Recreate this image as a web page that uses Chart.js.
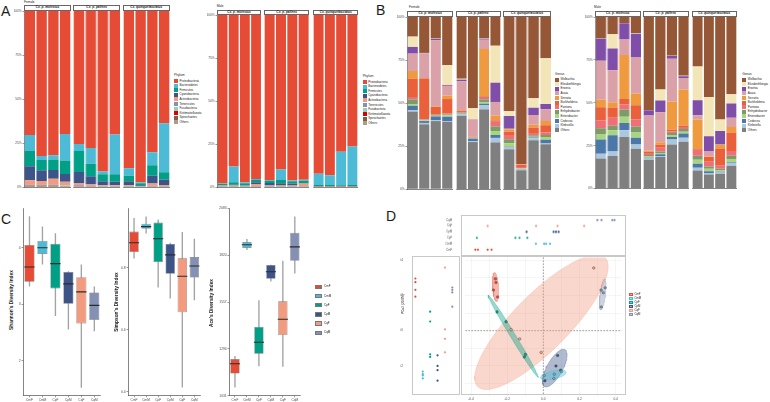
<!DOCTYPE html>
<html>
<head>
<meta charset="utf-8">
<script src="https://cdn.jsdelivr.net/npm/chart.js@4.4.1/dist/chart.umd.min.js"></script>
<style>
  html, body { margin: 0; padding: 0; background: #fff; }
  body { position: relative; width: 770px; height: 402px; overflow: hidden; font-family: "Liberation Sans", Arial, sans-serif; }
  .t { position: absolute; line-height: 1; white-space: nowrap; color: #1a1a1a; }
</style>
</head>
<body>
<script>
// ---------- data ----------
const facetNames = ['Cx. p. molestus', 'Cx. p. pallens', 'Cx. quinquefasciatus'];
const femaleSamples = ['CmF1','CmF2','CmF3','CmF4','CpF1','CpF2','CpF3','CpF4','CqF1','CqF2','CqF3','CqF4'];
const maleSamples = ['CmM1','CmM2','CmM3','CmM4','CpM1','CpM2','CpM3','CpM4','CqM1','CqM2','CqM3','CqM4'];
const pctTicks = ['0%', '25%', '50%', '75%', '100%'];

const phyla = ['Proteobacteria','Bacteroidetes','Firmicutes','Cyanobacteria','Actinobacteria','Tenericutes','Fusobacteria','Kiritimatiellaeota','Spirochaetes','Others'];
const phylumColors = ['#E64B35','#4DBBD5','#00A087','#3C5488','#F39B7F','#8491B4','#91D1C2','#DC0000','#7E6148','#B09C85'];
const phylumFemale = [
  [70.3, 82.2, 81.8, 69.7, 75.4, 77.7, 91.1, 70.1, 89.2, 97.2, 80.1, 63.6],
  [9.1, 2.3, 2.5, 15.1, 4.0, 9.0, 1.5, 22.5, 4.2, 0.5, 7.4, 27.9],
  [8.6, 5.8, 5.9, 7.6, 11.9, 7.0, 4.0, 4.2, 3.2, 1.2, 5.9, 4.1],
  [8.0, 6.1, 4.9, 4.4, 6.2, 4.4, 2.3, 2.1, 2.3, 0.3, 4.5, 3.1],
  [2.5, 2.2, 3.5, 2.0, 1.4, 0.9, 0.3, 0.3, 0.3, 0.1, 1.2, 0.5],
  [0.3, 0.2, 0.2, 0.2, 0.3, 0.3, 0.2, 0.2, 0.2, 0.1, 0.2, 0.2],
  [0.2, 0.2, 0.2, 0.2, 0.1, 0.1, 0.1, 0.1, 0.1, 0.1, 0.1, 0.1],
  [0.1, 0.1, 0.1, 0.1, 0.1, 0.1, 0.1, 0.1, 0.1, 0.1, 0.1, 0.1],
  [0.1, 0.1, 0.1, 0.1, 0.1, 0.1, 0.1, 0.1, 0.1, 0.1, 0.1, 0.1],
  [0.8, 0.8, 0.8, 0.6, 0.5, 0.4, 0.3, 0.3, 0.3, 0.3, 0.4, 0.3]
];
const phylumMale = [
  [97.7, 88.0, 97.1, 95.2, 95.7, 89.7, 96.0, 95.6, 92.1, 93.0, 79.4, 76.3],
  [0.3, 9.0, 0.5, 0.5, 0.5, 6.1, 0.5, 0.6, 6.5, 5.7, 19.4, 22.4],
  [0.7, 1.5, 1.2, 1.4, 1.3, 1.8, 1.3, 1.3, 0.6, 0.5, 0.4, 0.5],
  [0.3, 0.5, 0.3, 1.0, 1.5, 1.4, 1.2, 0.3, 0.1, 0.1, 0.1, 0.1],
  [0.3, 0.3, 0.2, 1.0, 0.3, 0.3, 0.3, 1.5, 0.1, 0.1, 0.1, 0.1],
  [0.1, 0.1, 0.1, 0.2, 0.1, 0.1, 0.1, 0.1, 0.1, 0.1, 0.1, 0.1],
  [0.1, 0.1, 0.1, 0.1, 0.1, 0.1, 0.1, 0.1, 0.1, 0.1, 0.1, 0.1],
  [0.1, 0.1, 0.1, 0.1, 0.1, 0.1, 0.1, 0.1, 0.1, 0.1, 0.1, 0.1],
  [0.1, 0.1, 0.1, 0.1, 0.1, 0.1, 0.1, 0.1, 0.1, 0.1, 0.1, 0.1],
  [0.3, 0.3, 0.3, 0.4, 0.3, 0.3, 0.3, 0.3, 0.2, 0.2, 0.2, 0.2]
];

const genera = ['Wolbachia','Elizabethkingia','Erwinia','Asaia','Serratia','Burkholderia','Pantoea','Enhydrobacter','Enterobacter','Cedecea','Klebsiella','Others'];
const genusColors = ['#955735','#F2E6B9','#7E4EA8','#DBA1A8','#F09A40','#E9603A','#EF6F77','#7D9A68','#A8D580','#4B78A8','#ABC7E0','#7F7F7F'];
const genusFemale = [
  [11.4, 20.9, 12.6, 28.0, 35.9, 53.1, 12.4, 16.7, 54.8, 85.4, 47.3, 24.0],
  [6.0, 0.2, 0.2, 11.5, 0.5, 6.4, 0.2, 21.5, 2.8, 0.1, 5.4, 26.6],
  [3.9, 0.2, 0.8, 0.5, 1.0, 0.2, 0.6, 11.2, 7.4, 0.1, 4.3, 3.1],
  [10.1, 14.2, 38.3, 5.7, 16.7, 9.7, 5.4, 8.0, 0.3, 0.1, 5.6, 6.8],
  [4.6, 0.2, 0.4, 2.0, 0.4, 0.2, 27.5, 2.7, 1.4, 0.2, 1.7, 2.5],
  [10.5, 23.8, 4.5, 8.5, 0.7, 0.3, 0.4, 0.4, 1.9, 1.3, 3.1, 4.2],
  [1.4, 0.2, 0.2, 0.5, 0.4, 0.2, 1.4, 3.1, 2.5, 0.7, 1.4, 1.4],
  [2.7, 0.3, 0.4, 0.5, 0.2, 0.2, 1.5, 2.7, 2.3, 0.2, 0.8, 1.2],
  [1.0, 0.5, 0.4, 0.8, 0.4, 0.4, 1.0, 2.3, 2.1, 0.2, 0.5, 1.5],
  [2.7, 1.1, 2.3, 2.5, 0.4, 1.6, 0.8, 1.7, 0.3, 0.4, 0.4, 2.3],
  [0.7, 0.8, 0.4, 0.4, 0.8, 0.4, 2.5, 2.6, 1.1, 0.4, 1.2, 0.4],
  [45.0, 37.6, 39.5, 39.1, 42.6, 27.3, 46.3, 27.1, 23.1, 10.9, 28.3, 26.0]
];
const genusMale = [
  [12.5, 10.0, 3.5, 9.5, 54.2, 42.3, 22.6, 34.3, 28.8, 46.6, 59.8, 45.0],
  [0.2, 8.3, 0.2, 0.2, 0.2, 6.4, 0.2, 0.2, 19.7, 23.0, 6.7, 5.5],
  [12.8, 12.7, 9.4, 13.9, 3.1, 6.9, 1.6, 1.0, 8.8, 8.6, 7.8, 8.2],
  [22.8, 18.7, 9.1, 21.0, 20.3, 17.5, 24.9, 6.8, 2.5, 3.2, 0.2, 5.4],
  [4.3, 3.1, 25.6, 6.9, 0.8, 1.4, 16.4, 21.1, 17.2, 0.3, 2.5, 3.2],
  [7.6, 5.9, 3.1, 8.1, 0.7, 1.7, 1.0, 0.7, 0.4, 2.7, 9.7, 10.9],
  [4.7, 4.7, 3.1, 4.3, 1.2, 2.2, 0.9, 1.2, 3.5, 2.8, 1.8, 2.7],
  [3.3, 2.7, 4.1, 3.4, 0.8, 0.9, 1.2, 1.6, 2.3, 1.3, 1.0, 1.9],
  [3.3, 2.9, 3.7, 3.1, 0.8, 0.8, 1.2, 1.1, 2.4, 1.4, 0.7, 1.8],
  [8.2, 9.4, 4.3, 3.9, 0.4, 1.0, 1.5, 2.4, 2.3, 1.1, 0.4, 0.4],
  [2.8, 2.7, 3.9, 2.5, 0.7, 0.6, 2.8, 2.3, 1.6, 0.8, 0.8, 1.7],
  [17.5, 18.9, 30.0, 23.2, 16.8, 18.3, 25.7, 27.3, 10.5, 8.2, 8.6, 13.3]
];

const groups = ['CmF','CmM','CpF','CpM','CqF','CqM'];
const groupColors = ['#E64B35','#4DBBD5','#00A087','#3C5488','#F39B7F','#8491B4'];
// [min, q1, median, q3, max]
const shannon = [[3.32,3.40,3.66,4.05,4.55],[3.71,3.89,4.00,4.12,4.37],[2.80,3.28,3.72,4.07,4.25],[2.56,3.01,3.36,3.57,3.58],[1.53,2.66,3.22,3.48,3.70],[2.53,2.72,2.98,3.21,3.31]];
const simpson = [[0.831,0.851,0.881,0.917,0.960],[0.912,0.926,0.933,0.942,0.965],[0.738,0.819,0.894,0.946,0.955],[0.702,0.781,0.842,0.877,0.880],[0.415,0.657,0.773,0.831,0.915],[0.697,0.769,0.806,0.835,0.893]];
const ace = [[1079,1156,1211,1237,1252],[1851,1860,1878,1893,1908],[1198,1267,1331,1418,1565],[1674,1687,1727,1764,1764],[1196,1372,1460,1561,1786],[1718,1788,1866,1945,2035]];

// PCoA scores per group
const pco1 = [[-0.265,-0.262,-0.276,-0.253],[0.005,0.061,0.100,0.058],[-0.256,-0.206,-0.099,-0.105],[0.079,0.070,0.096,0.009],[-0.131,-0.012,0.279,-0.178],[0.320,0.332,0.342,0.321]];
const pco2 = [[0.295,0.274,0.231,0.192],[-0.255,-0.248,-0.233,-0.272],[0.107,0.051,-0.135,-0.150],[-0.141,-0.201,-0.225,-0.285],[-0.047,-0.124,0.357,0.006],[0.231,0.216,0.244,0.135]];
// top strip plot values
const topStrip = [[-0.354,-0.340,-0.288,-0.267],[-0.029,0.015,0.026,0.047],[-0.346,-0.139,-0.117,-0.075],[-0.079,0.066,0.079,0.093],[-0.288,-0.028,0.087,0.230],[0.301,0.323,0.381,0.393]];

// ---------- helpers ----------
Chart.defaults.font.family = '"Liberation Sans", Arial, sans-serif';
Chart.defaults.color = '#4d4d4d';
Chart.defaults.animation = false;
Chart.defaults.responsive = true;
Chart.defaults.maintainAspectRatio = false;
Chart.defaults.plugins.legend.display = false;
Chart.defaults.plugins.tooltip.enabled = false;

function mk(l, t, w, h) {
  const d = document.createElement('div');
  d.style.cssText = `position:absolute;left:${l}px;top:${t}px;width:${w}px;height:${h}px`;
  const c = document.createElement('canvas');
  d.appendChild(c);
  document.body.appendChild(d);
  return c;
}
function txt(s, x, y, size, css) {
  const d = document.createElement('div');
  d.className = 't';
  d.textContent = s;
  d.style.cssText = `left:${x}px;top:${y}px;font-size:${size}px;${css || ''}`;
  document.body.appendChild(d);
  return d;
}
function vtxt(s, cx, cy, size, css) {
  return txt(s, cx, cy, size, (css || '') + ';transform:translate(-50%,-50%) rotate(-90deg)');
}
function rect(l, t, w, h, css) {
  const d = document.createElement('div');
  d.style.cssText = `position:absolute;left:${l}px;top:${t}px;width:${w}px;height:${h}px;box-sizing:border-box;${css}`;
  document.body.appendChild(d);
  return d;
}
function alpha(hex, a) {
  const n = parseInt(hex.slice(1), 16);
  return `rgba(${n >> 16},${(n >> 8) & 255},${n & 255},${a})`;
}
function legend(x, y, step, title, names, colors) {
  txt(title, x, y - step, 3.2);
  names.forEach((n, i) => {
    rect(x, y + i * step, 4, 4, `background:${colors[i]}`);
    txt(n, x + 5.5, y + i * step + 0.6, 3);
  });
}

const axisLine = { color: '#333', width: 0.6 };
const tickGrid = { display: true, drawOnChartArea: false, tickLength: 1.5, color: '#333', lineWidth: 0.5, offset: false };

function stackedPanel(facets, stripTop, plotTop, plotBottom, samples, rows, names, colors) {
  facets.forEach(([l, r], k) => {
    rect(l, stripTop, r - l, plotTop - stripTop, 'border:0.6px solid #666;background:#fff');
    txt(facetNames[k], (l + r) / 2, stripTop + (plotTop - stripTop) / 2, 3.2,
      'font-weight:bold;font-style:italic;transform:translate(-50%,-50%)');
    const withY = k === 0;
    const yw = withY ? 10 : 0;
    const idx = [4 * k, 4 * k + 1, 4 * k + 2, 4 * k + 3];
    const datasets = names.map((n, i) => ({
      label: n,
      data: idx.map(j => rows[i][j]),
      backgroundColor: colors[i],
      borderWidth: 0,
      barPercentage: 0.88,
      categoryPercentage: 1
    })).reverse();
    new Chart(mk(l - yw, plotTop - 3, r - l + yw, plotBottom - plotTop + 9), {
      type: 'bar',
      data: { labels: idx.map(j => samples[j]), datasets },
      options: {
        layout: { padding: { top: 3 } },
        scales: {
          x: {
            stacked: true, grid: { display: false }, border: axisLine,
            ticks: { font: { size: 3.2 }, padding: 0.8, maxRotation: 0, autoSkip: false },
            afterFit: s => { s.height = 6; }
          },
          y: {
            display: withY, stacked: true, min: 0, max: 100,
            ticks: { stepSize: 25, font: { size: 3.2 }, padding: 0.8, callback: v => pctTicks[v / 25] },
            grid: tickGrid, border: axisLine,
            afterFit: s => { s.width = yw; }
          }
        }
      }
    });
  });
}

function boxChart(l, t, w, h, yw, stats, yMin, yMax, step, fmt) {
  new Chart(mk(l, t, w, h), {
    type: 'bar',
    data: {
      labels: groups,
      datasets: [
        { data: stats.map(s => [s[0], s[4]]), backgroundColor: '#a3a3a3', barThickness: 0.7, grouped: false, order: 3 },
        { data: stats.map(s => [s[1], s[3]]), backgroundColor: groupColors, borderColor: '#7a7a7a', borderWidth: 0.6,
          borderSkipped: false, barPercentage: 0.78, categoryPercentage: 1, grouped: false, order: 2 },
        { type: 'line', data: stats.map(s => s[2]), showLine: false, pointStyle: 'line', pointRadius: 5.1,
          pointBorderColor: '#2b2b2b', pointBorderWidth: 1.1, order: 1 }
      ]
    },
    options: {
      layout: { padding: { top: 3 } },
      scales: {
        x: { grid: tickGrid, border: axisLine,
             ticks: { font: { size: 3.2 }, padding: 0.6, maxRotation: 0, autoSkip: false },
             afterFit: s => { s.height = 6; } },
        y: { min: yMin, max: yMax, grid: tickGrid, border: axisLine,
             ticks: { stepSize: step, includeBounds: false, font: { size: 3.3 }, padding: 0.8, callback: fmt },
             afterFit: s => { s.width = yw; } }
      }
    }
  });
}

function ellipse(xs, ys, r) {
  const n = xs.length;
  const mx = xs.reduce((a, b) => a + b, 0) / n;
  const my = ys.reduce((a, b) => a + b, 0) / n;
  let sxx = 0, syy = 0, sxy = 0;
  for (let i = 0; i < n; i++) {
    const dx = xs[i] - mx, dy = ys[i] - my;
    sxx += dx * dx; syy += dy * dy; sxy += dx * dy;
  }
  sxx /= n - 1; syy /= n - 1; sxy /= n - 1;
  const tr = sxx + syy, det = sxx * syy - sxy * sxy;
  const disc = Math.sqrt(Math.max(tr * tr / 4 - det, 0));
  const l1 = tr / 2 + disc, l2 = Math.max(tr / 2 - disc, 0);
  const th = Math.abs(sxy) < 1e-12 ? (sxx >= syy ? 0 : Math.PI / 2) : Math.atan2(l1 - sxx, sxy);
  const pts = [];
  for (let k = 0; k <= 72; k++) {
    const t = 2 * Math.PI * k / 72;
    const u = r * Math.sqrt(l1) * Math.cos(t), v = r * Math.sqrt(l2) * Math.sin(t);
    pts.push({ x: mx + u * Math.cos(th) - v * Math.sin(th), y: my + u * Math.sin(th) + v * Math.cos(th) });
  }
  return pts;
}

// ---------- panel letters ----------
txt('A', 1, 4, 14);
txt('B', 376, 3, 14);
txt('C', 1, 212, 14);
txt('D', 386, 209, 14);

// ---------- panel A ----------
txt('Female', 24, 0.6, 3.2);
stackedPanel([[24, 71], [73.3, 120], [122.7, 169.7]], 5.3, 11, 187.3, femaleSamples, phylumFemale, phyla, phylumColors);
legend(174, 79, 4.6, 'Phylum', phyla, phylumColors);

txt('Male', 216.7, 5, 3.2);
stackedPanel([[216.7, 261.3], [264, 309.3], [313.3, 358.3]], 10, 15, 187.3, maleSamples, phylumMale, phyla, phylumColors);
legend(362.7, 80, 4.6, 'Phylum', phyla, phylumColors);

// ---------- panel B ----------
txt('Female', 409, 5.6, 3.2);
stackedPanel([[407.3, 453.3], [455.7, 500.7], [503.3, 551]], 11, 16.5, 188.5, femaleSamples, genusFemale, genera, genusColors);
legend(555, 77.5, 4.6, 'Genus', genera, genusColors);

txt('Male', 594, 5.6, 3.2);
stackedPanel([[595, 640.7], [642.7, 689], [691.7, 736.7]], 11, 16.5, 188, maleSamples, genusMale, genera, genusColors);
legend(742.3, 77.5, 4.6, 'Genus', genera, genusColors);

// ---------- panel C ----------
boxChart(15, 202, 92, 200, 8, shannon, 1.38, 4.70, 1, v => v);
boxChart(118.7, 202, 87.6, 200, 9, simpson, 0.3875, 0.9925, 0.2, v => v.toFixed(1));
boxChart(218, 202, 89, 200, 11, ace, 1031, 2083, 250, v => v);
vtxt("Shannon's Diversity Index", 11.5, 300, 4.8, 'font-weight:bold');
vtxt("Simpson's Diversity Index", 116.5, 302, 4.8, 'font-weight:bold');
vtxt("Ace's Diversity Index", 212, 303, 4.8, 'font-weight:bold');
groups.forEach((g, i) => {
  rect(315, 284.5 + i * 9.2, 6.5, 4.5, `background:${groupColors[i]};border:0.5px solid #777`);
  txt(g, 324, 285.3 + i * 9.2, 3);
});

// ---------- panel D ----------
const xMin = -0.431, xMax = 0.433, yMin = -0.366, yMax = 0.417;
const zeroLines = {
  id: 'zeroLines',
  beforeDatasetsDraw(chart) {
    const { ctx, chartArea: a, scales: { x, y } } = chart;
    const px = x.getPixelForValue(0), py = y.getPixelForValue(0);
    ctx.save();
    ctx.strokeStyle = '#666'; ctx.lineWidth = 0.6; ctx.setLineDash([1.6, 1.4]);
    ctx.beginPath();
    ctx.moveTo(px, a.top); ctx.lineTo(px, a.bottom);
    ctx.moveTo(a.left, py); ctx.lineTo(a.right, py);
    ctx.stroke();
    ctx.restore();
  }
};
const pcoDatasets = [];
groups.forEach((g, i) => {
  pcoDatasets.push({ data: ellipse(pco1[i], pco2[i], 1.8), showLine: true, fill: 'shape', tension: 0,
    backgroundColor: alpha(groupColors[i], 0.4), borderColor: alpha(groupColors[i], 0.55), borderWidth: 0.5,
    pointRadius: 0, order: 2 });
});
groups.forEach((g, i) => {
  pcoDatasets.push({ data: pco1[i].map((x, j) => ({ x, y: pco2[i][j] })), pointRadius: 1.3,
    backgroundColor: groupColors[i], borderColor: '#444', borderWidth: 0.4, order: 1 });
});
new Chart(mk(461, 253, 165, 148), {
  type: 'scatter',
  data: { datasets: pcoDatasets },
  plugins: [zeroLines],
  options: {
    layout: { padding: { top: 3 } },
    scales: {
      x: { min: xMin, max: xMax, grid: { color: '#ebebeb', lineWidth: 0.5, tickLength: 1.5 }, border: { display: false },
           ticks: { stepSize: 0.1, includeBounds: false, font: { size: 3.2 }, padding: 0.5,
             callback: v => Math.round(v * 10) % 2 === 0 ? (Math.abs(v) < 1e-9 ? '0.0' : v.toFixed(1)) : '' },
           afterFit: s => { s.height = 6; } },
      y: { min: yMin, max: yMax, grid: { color: '#ebebeb', lineWidth: 0.5, drawTicks: false }, border: { display: false },
           ticks: { display: false, stepSize: 0.1, includeBounds: false }, afterFit: s => { s.width = 0; } }
    }
  }
});
rect(461, 256, 165, 139, 'border:0.6px solid #c8c8c8');

// top strip
const rowsTop = groups.slice().reverse();
new Chart(mk(445, 213, 181, 42.7), {
  type: 'scatter',
  data: { datasets: groups.map((g, i) => ({ data: topStrip[i].map(x => ({ x, y: g })), pointRadius: 1.1,
    backgroundColor: groupColors[i], borderWidth: 0 })) },
  options: {
    layout: { padding: { top: 2 } },
    scales: {
      x: { display: false, min: xMin, max: xMax },
      y: { type: 'category', labels: rowsTop, offset: true, grid: { display: false }, border: { display: false },
           ticks: { font: { size: 2.8 }, padding: 0.8, autoSkip: false }, afterFit: s => { s.width = 16; } }
    }
  }
});
rect(461, 215, 165, 40.7, 'border:0.6px solid #c8c8c8');

// left strip
new Chart(mk(400, 253, 60, 149), {
  type: 'scatter',
  data: { datasets: groups.map((g, i) => ({ data: pco2[i].map(y => ({ x: g, y })), pointRadius: 1.1,
    backgroundColor: groupColors[i], borderWidth: 0 })) },
  options: {
    layout: { padding: { top: 3 } },
    scales: {
      x: { type: 'category', labels: groups, offset: true, grid: { display: false }, border: { display: false },
           ticks: { font: { size: 2.8 }, padding: 0.5, minRotation: 45, maxRotation: 45, autoSkip: false },
           afterFit: s => { s.height = 7; } },
      y: { min: yMin, max: yMax, grid: { display: false }, border: { display: false },
           ticks: { stepSize: 0.2, includeBounds: false, font: { size: 3 }, padding: 0.8,
             callback: v => Math.abs(v) < 1e-9 ? '0.0' : v.toFixed(1) },
           afterFit: s => { s.width = 11.7; } }
    }
  }
});
rect(411.7, 256, 48.3, 139, 'border:0.6px solid #c8c8c8');
vtxt('PCo2 (20.8%)', 403.5, 304, 3.1);

groups.forEach((g, i) => {
  rect(629.3, 293 + i * 4, 3.4, 3.4, `background:${alpha(groupColors[i], 0.5)};border:0.4px solid ${groupColors[i]}`);
  txt(g, 634.5, 293.4 + i * 4, 2.8);
});
</script>
</body>
</html>
